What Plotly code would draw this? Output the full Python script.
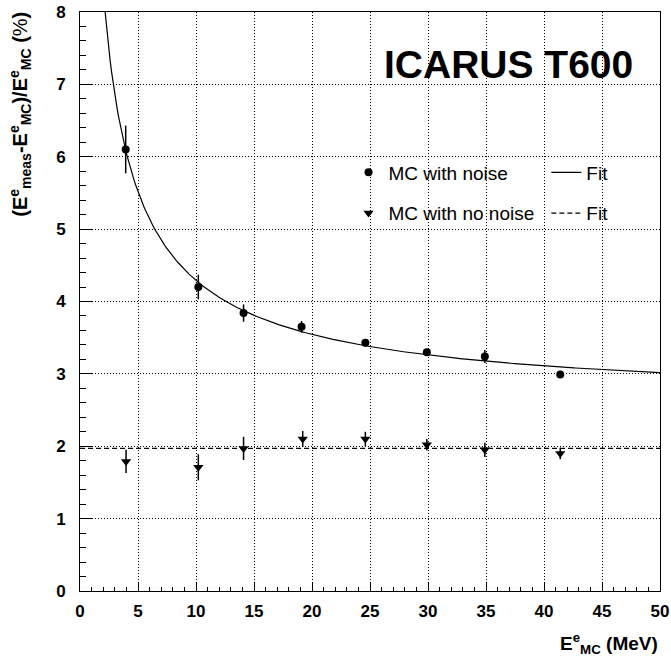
import numpy as np
import plotly.graph_objects as go

# ---- data ----
noise_E = [3.94, 10.2, 14.1, 19.1, 24.6, 29.9, 34.9, 41.4]
noise_res = [6.10, 4.20, 3.84, 3.65, 3.43, 3.30, 3.24, 2.99]
noise_err = [0.33, 0.17, 0.12, 0.08, 0.05, 0.04, 0.09, 0.03]

nonoise_E = [3.97, 10.2, 14.1, 19.2, 24.6, 29.9, 34.9, 41.4]
nonoise_res = [1.79, 1.71, 1.97, 2.10, 2.10, 2.02, 1.95, 1.90]
nonoise_err = [0.16, 0.18, 0.16, 0.11, 0.10, 0.08, 0.10, 0.08]

# fit parameters: sigma/E = a/sqrt(E) (+) b (+) c/E  (quadrature)
fit_a, fit_b, fit_c = 10.68, 2.61, 4.5
fit_const = 1.97

x_ticks = [0, 5, 10, 15, 20, 25, 30, 35, 40, 45, 50]
y_ticks = [0, 1, 2, 3, 4, 5, 6, 7, 8]

FONT = "Liberation Sans, Arial, Helvetica, sans-serif"

E_fit = np.linspace(1.5, 50, 400)
res_fit = np.sqrt(fit_a**2 / E_fit + fit_b**2 + fit_c**2 / E_fit**2)

fig = go.Figure()

fig.add_trace(go.Scatter(
    x=E_fit, y=res_fit, mode="lines", name="Fit",
    line=dict(color="black", width=1.2),
    legend="legend2", legendgroup="g1", showlegend=True))
fig.add_trace(go.Scatter(
    x=[0, 50], y=[fit_const, fit_const], mode="lines", name="Fit",
    line=dict(color="black", width=1.2, dash="5px,3px"),
    legend="legend2", legendgroup="g2", showlegend=True))

fig.add_trace(go.Scatter(
    x=noise_E, y=noise_res, mode="markers", name="MC with noise",
    marker=dict(symbol="circle", size=8, color="black"),
    error_y=dict(type="data", array=noise_err, width=0, thickness=1.5, color="black"),
    legend="legend", legendgroup="g3"))
fig.add_trace(go.Scatter(
    x=nonoise_E, y=nonoise_res, mode="markers", name="MC with no noise",
    marker=dict(symbol="triangle-down", size=9, color="black"),
    error_y=dict(type="data", array=nonoise_err, width=0, thickness=1.5, color="black"),
    legend="legend", legendgroup="g4"))

axis_common = dict(
    showgrid=True, gridcolor="black", griddash="1px,2px", gridwidth=1,
    showline=True, linecolor="black", linewidth=1, mirror=True,
    zeroline=False, ticks="inside", tickcolor="black", automargin=False,
    tickfont=dict(family=FONT, size=17, color="black", weight="bold"),
)

fig.update_xaxes(range=[0, 50], tickvals=x_ticks, ticklen=8,
                 minor=dict(dtick=1, ticks="inside", ticklen=4, tickcolor="black", showgrid=False),
                 ticklabelstandoff=5, **axis_common)
fig.update_yaxes(range=[0, 8], tickvals=y_ticks, ticklen=12,
                 minor=dict(dtick=0.2, ticks="inside", ticklen=6, tickcolor="black", showgrid=False),
                 ticklabelstandoff=10, **axis_common)

legend_font = dict(family=FONT, size=19, color="black")
fig.update_layout(
    width=671, height=658,
    margin=dict(l=80, r=11, t=12, b=67),
    paper_bgcolor="white", plot_bgcolor="white",
    legend=dict(x=0.463, y=0.7556, xanchor="left", yanchor="top",
                font=legend_font, bgcolor="rgba(0,0,0,0)", tracegroupgap=13,
                itemwidth=30),
    legend2=dict(x=0.804, y=0.7556, xanchor="left", yanchor="top",
                 font=legend_font, bgcolor="rgba(0,0,0,0)", tracegroupgap=13,
                 itemwidth=30),
    annotations=[
        dict(text="<b>ICARUS T600</b>", xref="paper", yref="paper",
             x=0.738, y=0.9085, xanchor="center", yanchor="middle",
             showarrow=False, font=dict(family=FONT, size=39, color="black")),
        dict(text="<b>E<sup>e</sup><sub>MC</sub> (MeV)</b>", xref="paper", yref="paper",
             x=1.0, y=-0.09, xanchor="right", yanchor="middle",
             showarrow=False, font=dict(family=FONT, size=19, color="black")),
        dict(text="<b>(E<sup>e</sup><sub>meas</sub>-E<sup>e</sup><sub>MC</sub>)/E<sup>e</sup><sub>MC</sub> (</b>%<b>)</b>",
             xref="paper", yref="paper", textangle=-90,
             x=-0.103, y=1.0035, xanchor="center", yanchor="top",
             showarrow=False, font=dict(family=FONT, size=20, color="black")),
    ],
)

fig.write_html("out.html")
